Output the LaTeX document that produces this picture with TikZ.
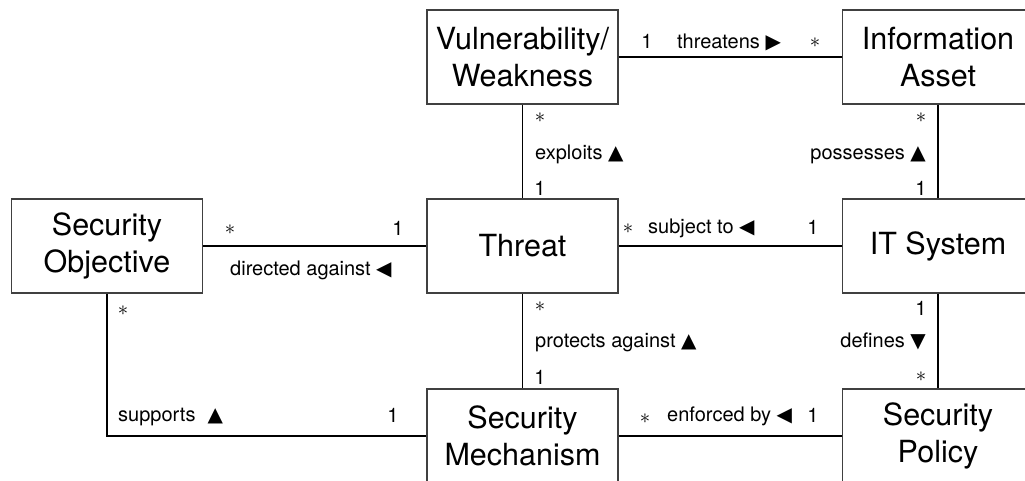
\documentclass[tikz,border=0pt]{standalone}
\usepackage{fontspec}
\setmainfont{TeX Gyre Heros}
\newfontfamily\symfont{DejaVu Sans}
\newcommand{\tri}[1]{{\symfont #1}}
\begin{document}
\begin{tikzpicture}[x=1pt,y=-1pt,
  entity/.style={draw=black!75, line width=1.2pt, fill=white,
    minimum width=191pt, minimum height=94pt, inner sep=0pt,
    align=center, font=\fontsize{30.5}{37}\selectfont},
  assoc/.style={line width=1.8pt, black},
  role/.style={inner sep=0pt, font=\fontsize{20}{24}\selectfont},
  mult/.style={inner sep=0pt, font=\fontsize{20}{24}\selectfont}]
\useasboundingbox (0,0) rectangle (1025,480);
\clip (0,0) rectangle (1025,480);

% classes
\node[entity] (so) at (107,246)   {Security\\Objective};
\node[entity] (v)  at (522.5,57)  {Vulnerability/\\Weakness};
\node[entity] (t)  at (522.5,246) {Threat};
\node[entity] (m)  at (522.5,436) {Security\\Mechanism};
\node[entity] (ia) at (938,57)    {Information\\Asset};
\node[entity] (it) at (938,246)   {IT System};
\node[entity] (p)  at (938,436)   {Security\\Policy};

% associations
\draw[assoc] (v.east)  -- (ia.west);
\draw[assoc] (v.south) -- (t.north);
\draw[assoc] (ia.south) -- (it.north);
\draw[assoc] (so.east) -- (t.west);
\draw[assoc] (t.east)  -- (it.west);
\draw[assoc] (t.south) -- (m.north);
\draw[assoc] (it.south) -- (p.north);
\draw[assoc] (m.east)  -- (p.west);
\draw[assoc] (so.south) |- (m.west);

% threatens
\node[mult] (m1) at (647,41) {1};
\node[role, anchor=base west] (r1) at (677,48) {threatens \tri{▶}};
\node[mult] (m2) at (815,43) {$*$};

% exploits
\node[mult] (m3) at (540,118) {$*$};
\node[role, anchor=base west] (r2) at (535,159) {exploits \tri{▲}};
\node[mult] (m4) at (540,188) {1};

% possesses
\node[mult] (m5) at (921,118) {$*$};
\node[role, anchor=base east] (r3) at (926,159) {possesses \tri{▲}};
\node[mult] (m6) at (921,188) {1};

% directed against
\node[mult] (m7) at (230,230) {$*$};
\node[mult] (m8) at (398,228) {1};
\node[role, anchor=base west] (r4) at (230,275) {directed against \tri{◀}};

% subject to
\node[mult] (m9) at (628,229) {$*$};
\node[role, anchor=base west] (r5) at (648,233) {subject to \tri{◀}};
\node[mult] (m10) at (813,227) {1};

% protects against
\node[mult] (m11) at (540,307) {$*$};
\node[role, anchor=base west] (r6) at (535,347) {protects against \tri{▲}};
\node[mult] (m12) at (540,377) {1};

% defines
\node[mult] (m13) at (921,308) {1};
\node[role, anchor=base east] (r7) at (926,347) {defines \tri{▼}};
\node[mult] (m14) at (921,377) {$*$};

% enforced by
\node[mult] (m15) at (645,419) {$*$};
\node[role, anchor=base west] (r8) at (667,421) {enforced by \tri{◀}};
\node[mult] (m16) at (813,415) {1};

% supports
\node[mult] (m17) at (123,311) {$*$};
\node[role, anchor=base west] (r9) at (118,421) {supports\hspace{12pt}\tri{▲}};
\node[mult] (m18) at (393,415) {1};
\end{tikzpicture}
\end{document}
